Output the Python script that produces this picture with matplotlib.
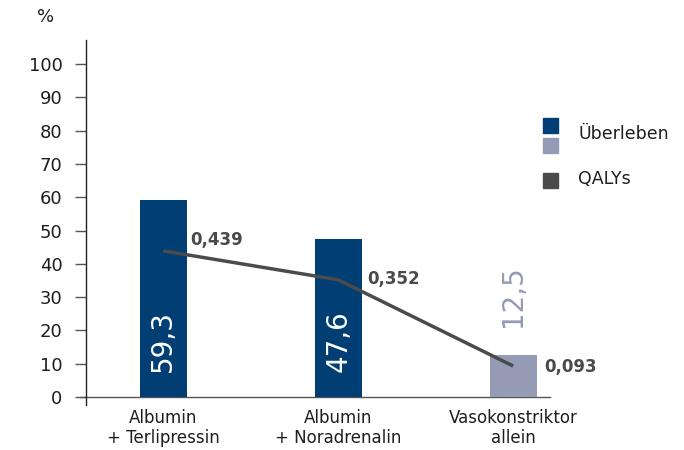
import matplotlib
matplotlib.use("Agg")
import matplotlib.pyplot as plt
from matplotlib.patches import Rectangle

# data
categories = ["Albumin\n+ Terlipressin", "Albumin\n+ Noradrenalin", "Vasokonstriktor\nallein"]
survival = [59.3, 47.6, 12.5]
survival_labels = ["59,3", "47,6", "12,5"]
qalys = [0.439, 0.352, 0.093]
qaly_labels = ["0,439", "0,352", "0,093"]
yticks = list(range(0, 101, 10))

dark_blue = "#003e73"
light_blue = "#959bb5"
line_gray = "#4b4b4b"
text_col = "#1e1e1e"

plt.rcParams['font.family'] = ['DejaVu Sans']

fig = plt.figure(figsize=(6.84, 4.5), dpi=100)
ax = fig.add_axes([0.126, 0.1, 0.678, 0.811])

pos = list(range(len(categories)))
width = 0.27
bar_colors = [dark_blue, dark_blue, light_blue]
ax.bar(pos, survival, width, color=bar_colors, zorder=2)

# QALYs line (scaled to % axis)
ax.plot(pos, [q * 100 for q in qalys], color=line_gray, lw=2.5, zorder=3,
        solid_capstyle='butt')

# values in / above bars
ax.text(pos[0], 7.5, survival_labels[0], rotation=90, ha='center', va='bottom',
        color='white', fontsize=20, zorder=4)
ax.text(pos[1], 7.5, survival_labels[1], rotation=90, ha='center', va='bottom',
        color='white', fontsize=20, zorder=4)
ax.text(pos[2], 21, survival_labels[2], rotation=90, ha='center', va='bottom',
        color=light_blue, fontsize=20, zorder=4)

# QALY labels
offsets = [(27, 11), (29, 1), (31, -1)]
for i, lab in enumerate(qaly_labels):
    ax.annotate(lab, (pos[i], qalys[i] * 100), xytext=offsets[i],
                textcoords='offset pixels', ha='left', va='center',
                fontsize=12, fontweight='bold', color='#4a4a4a')

ax.set_xlim(-0.44, 2.21)
ax.set_ylim(-2.4, 107.2)
ax.set_yticks(yticks)
ax.set_yticklabels([str(t) for t in yticks], fontsize=13, color=text_col)
ax.tick_params(axis='y', direction='out', length=8, width=1, color='#555555', pad=9)
ax.set_xticks(pos)
ax.set_xticklabels(categories, fontsize=12, color=text_col, linespacing=1.1)
ax.tick_params(axis='x', length=0, pad=3)

for s in ['top', 'right', 'bottom']:
    ax.spines[s].set_visible(False)
ax.spines['left'].set_color('#222222')
ax.spines['left'].set_linewidth(1)

# x axis line, slightly overshooting the y axis
ax.plot([-0.475, 2.21], [0, 0], color='#555555', lw=1, clip_on=False, zorder=1)

# % unit
fig.text(0.066, 0.962, "%", fontsize=13, color=text_col, ha='center', va='center')

# legend drawn by hand
fig.patches.append(Rectangle((543 / 684, 1 - 133 / 450), 15 / 684, 15 / 450,
                             transform=fig.transFigure, color=dark_blue))
fig.patches.append(Rectangle((543 / 684, 1 - 153 / 450), 15 / 684, 15 / 450,
                             transform=fig.transFigure, color=light_blue))
fig.patches.append(Rectangle((543 / 684, 1 - 188 / 450), 15 / 684, 15 / 450,
                             transform=fig.transFigure, color=line_gray))
fig.text(578 / 684, 1 - 134 / 450, "Überleben", fontsize=12.5, color=text_col, va='center')
fig.text(578 / 684, 1 - 179 / 450, "QALYs", fontsize=12.5, color=text_col, va='center')

fig.savefig("out.png", dpi=100)
